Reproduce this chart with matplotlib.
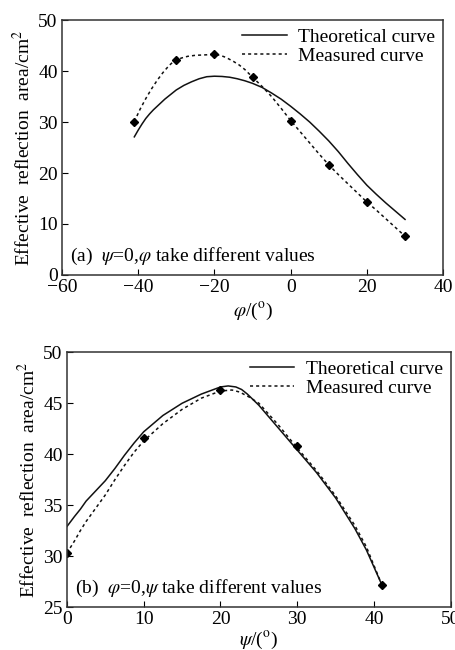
import numpy as np
import matplotlib
matplotlib.use('Agg')
import matplotlib.pyplot as plt

plt.rcParams['font.family'] = ['Liberation Serif', 'DejaVu Serif']
plt.rcParams['mathtext.fontset'] = 'stix'

# (a) psi=0, phi varies
phi_meas = [-41, -30, -20, -10, 0, 10, 20, 30]
area_meas_a = [30.1, 42.2, 43.3, 38.8, 30.3, 21.6, 14.3, 7.6]
phi_curve_meas = [-41, -39.5, -38, -36.5, -35, -33.5, -32, -31, -30, -28.5, -27, -25, -22, -20, -18.5, -17, -15, -13.5, -12, -10,
                  -7.5, -5, -2.5, 0, 2.5, 5, 7.5, 10, 12.5, 15, 17.5, 20, 22.5, 25, 27.5, 30]
area_curve_meas_a = [30.1, 32.5, 34.6, 36.5, 38.2, 39.7, 41.0, 41.7, 42.2, 42.6, 42.9, 43.1, 43.2, 43.3, 43.1, 42.7, 41.9, 41.2, 40.3, 38.8,
                     37.0, 35.0, 32.7, 30.3, 28.1, 25.9, 23.7, 21.6, 19.7, 17.9, 16.1, 14.3, 12.7, 11.0, 9.3, 7.6]
phi_theo = [-41, -40, -39, -38, -37, -36, -35, -34, -33, -32, -30, -28, -26, -24, -22, -20, -18, -16, -14, -12, -10,
            -7.5, -5, -2.5, 0, 2.5, 5, 7.5, 10, 12.5, 15, 17.5, 20, 22.5, 25, 27.5, 30]
area_theo_a = [27.1, 28.4, 29.6, 30.7, 31.6, 32.4, 33.1, 33.8, 34.5, 35.1, 36.3, 37.2, 37.9, 38.5, 38.9, 39.0, 38.95, 38.8, 38.5, 38.1, 37.6,
               36.8, 35.7, 34.5, 33.1, 31.6, 30.0, 28.2, 26.3, 24.2, 21.9, 19.7, 17.6, 15.8, 14.1, 12.5, 10.9]

# (b) phi=0, psi varies
psi_meas = [0, 10, 20, 30, 41]
area_meas_b = [30.3, 41.6, 46.3, 40.8, 27.2]
psi_curve_meas = [0, 0.5, 1, 1.75, 2.5, 3.75, 5, 6.25, 7.5, 8.75, 10, 12.5, 15, 17.5, 20, 21.5, 22.5, 23.75, 25, 27.5, 30,
                  32.5, 35, 37.5, 39, 41]
area_curve_meas_b = [30.3, 30.9, 31.5, 32.5, 33.4, 34.7, 36.0, 37.5, 38.9, 40.2, 41.3, 43.0, 44.4, 45.5, 46.2, 46.3, 46.1, 45.6, 45.0, 42.9, 40.6,
                     38.4, 35.9, 33.0, 30.9, 27.2]
psi_theo = [0, 0.5, 1, 1.75, 2.5, 3.75, 5, 6.25, 7.5, 8.75, 10, 12.5, 15, 17.5, 20, 21, 22, 22.75, 23.5, 25, 27.5, 30,
            32.5, 35, 37.5, 39, 41]
area_theo_b = [32.9, 33.4, 33.9, 34.6, 35.4, 36.4, 37.4, 38.6, 39.9, 41.1, 42.2, 43.8, 45.0, 45.9, 46.6, 46.7, 46.6, 46.35, 45.9, 44.8, 42.6, 40.4,
               38.2, 35.7, 32.7, 30.6, 27.2]

fig = plt.figure(figsize=(4.55, 6.5), dpi=100)
ax1 = fig.add_axes([0.136, 0.577, 0.838, 0.392])
ax2 = fig.add_axes([0.147, 0.066, 0.844, 0.392])

def style(ax):
    ax.tick_params(direction='in', labelsize=14, length=4, top=False, right=False, pad=3)
    for s in ax.spines.values():
        s.set_linewidth(1.1)
        s.set_color('#333333')

ax1.plot(phi_theo, area_theo_a, color='#111111', lw=1.1, label='Theoretical curve')
ax1.plot(phi_curve_meas, area_curve_meas_a, color='#111111', lw=1.1, ls=(0, (2, 2)), label='Measured curve')
ax1.plot(phi_meas, area_meas_a, ls='none', marker='D', ms=4.5, color='black')
ax1.set_xlim(-60, 40)
ax1.set_ylim(0, 50)
ax1.set_xticks([-60, -40, -20, 0, 20, 40])
ax1.set_yticks([0, 10, 20, 30, 40, 50])
ax1.set_xlabel(r'$\varphi$/($^{\rm o}$)', fontsize=14, labelpad=3)
ax1.set_ylabel('Effective  reflection  area/cm$^2$', fontsize=14, labelpad=3)
ax1.text(0.02, 0.055, r'(a)  $\psi$=0,$\varphi$ take different values', transform=ax1.transAxes, fontsize=14)
ax1.legend(loc='upper right', frameon=False, fontsize=14, handlelength=2.3,
           borderaxespad=0.0, labelspacing=0.1, handletextpad=0.6)
style(ax1)

ax2.plot(psi_theo, area_theo_b, color='#111111', lw=1.1, label='Theoretical curve')
ax2.plot(psi_curve_meas, area_curve_meas_b, color='#111111', lw=1.1, ls=(0, (2, 2)), label='Measured curve')
ax2.plot(psi_meas, area_meas_b, ls='none', marker='D', ms=4.5, color='black')
ax2.set_xlim(0, 50)
ax2.set_ylim(25, 50)
ax2.set_xticks([0, 10, 20, 30, 40, 50])
ax2.set_yticks([25, 30, 35, 40, 45, 50])
ax2.set_xlabel(r'$\psi$/($^{\rm o}$)', fontsize=14, labelpad=1)
ax2.set_ylabel('Effective  reflection  area/cm$^2$', fontsize=14, labelpad=3)
ax2.text(0.02, 0.055, r'(b)  $\varphi$=0,$\psi$ take different values', transform=ax2.transAxes, fontsize=14)
ax2.legend(loc='upper right', frameon=False, fontsize=14, handlelength=2.3,
           borderaxespad=0.0, labelspacing=0.1, handletextpad=0.6)
style(ax2)

fig.savefig('out.png', dpi=100)
